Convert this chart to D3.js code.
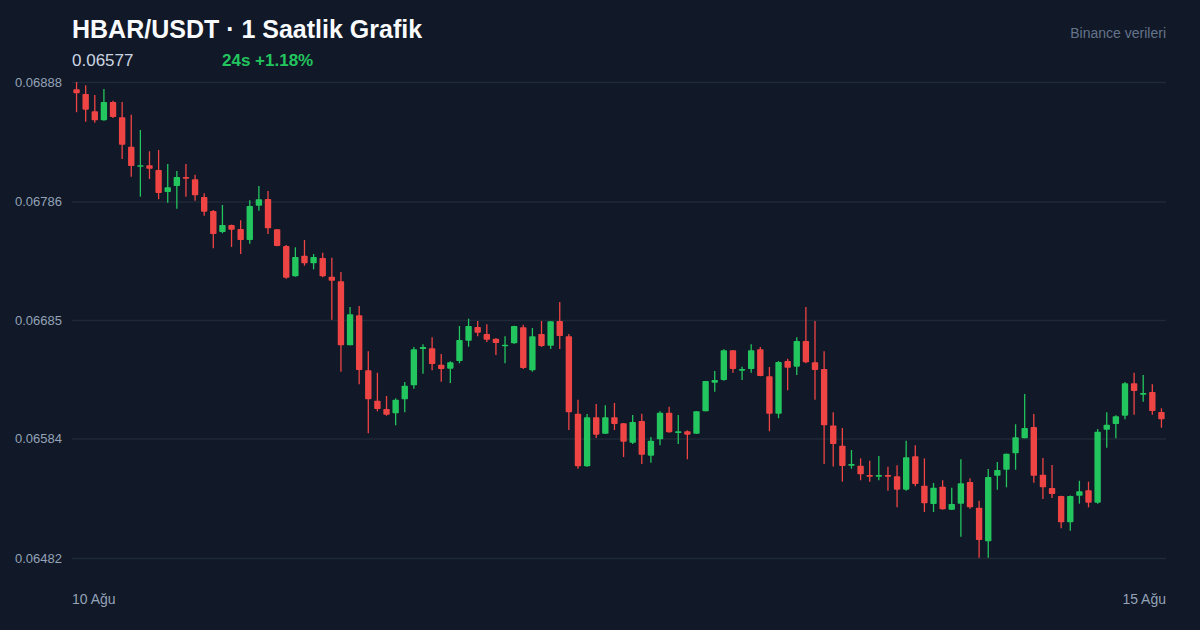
<!DOCTYPE html>
<html>
<head>
<meta charset="utf-8">
<script src="https://cdn.jsdelivr.net/npm/d3@7"></script>
<style>
  html, body { margin: 0; padding: 0; background: #111827; }
  svg { display: block; font-family: "Liberation Sans", Arial, Helvetica, sans-serif; }
</style>
</head>
<body>
<svg id="chart" width="1200" height="630"></svg>
<script>
// ── Data (HBAR/USDT, 1h candles, 10 Ağu → 15 Ağu) ─────────
const open = [
  0.068818, 0.068778, 0.068630, 0.068553, 0.068709, 0.068579, 0.068328, 0.068159, 0.068170, 0.068129,
  0.067942, 0.067993, 0.068070, 0.068050, 0.067899, 0.067780, 0.067601, 0.067660, 0.067626, 0.067532,
  0.067825, 0.067882, 0.067624, 0.067481, 0.067223, 0.067398, 0.067334, 0.067379, 0.067219, 0.067180,
  0.066634, 0.066890, 0.066421, 0.066162, 0.066091, 0.066054, 0.066174, 0.066293, 0.066603, 0.066609,
  0.066469, 0.066435, 0.066500, 0.066673, 0.066790, 0.066731, 0.066691, 0.066626, 0.066651, 0.066788,
  0.066421, 0.066731, 0.066631, 0.066842, 0.066711, 0.066051, 0.065602, 0.066020, 0.065880, 0.066020,
  0.065969, 0.065803, 0.065989, 0.065693, 0.065832, 0.066059, 0.065886, 0.065901, 0.065880, 0.066071,
  0.066315, 0.066338, 0.066592, 0.066418, 0.066432, 0.066600, 0.066370, 0.066051, 0.066500, 0.066452,
  0.066671, 0.066489, 0.066432, 0.065950, 0.065778, 0.065607, 0.065607, 0.065528, 0.065513, 0.065528,
  0.065517, 0.065403, 0.065687, 0.065437, 0.065281, 0.065428, 0.065232, 0.065283, 0.065468, 0.065249,
  0.064962, 0.065522, 0.065573, 0.065714, 0.065842, 0.065937, 0.065531, 0.065417, 0.065349, 0.065124,
  0.065351, 0.065397, 0.065292, 0.065914, 0.065963, 0.066034, 0.066310, 0.066213, 0.066236, 0.066065
];
const high = [
  0.068880, 0.068852, 0.068769, 0.068820, 0.068721, 0.068709, 0.068601, 0.068471, 0.068289, 0.068300,
  0.068181, 0.068121, 0.068181, 0.068089, 0.067931, 0.067788, 0.067831, 0.067664, 0.067700, 0.067871,
  0.067993, 0.067950, 0.067626, 0.067490, 0.067470, 0.067532, 0.067413, 0.067424, 0.067381, 0.067259,
  0.066961, 0.066969, 0.066583, 0.066400, 0.066202, 0.066182, 0.066321, 0.066620, 0.066643, 0.066702,
  0.066560, 0.066498, 0.066799, 0.066861, 0.066842, 0.066813, 0.066694, 0.066711, 0.066801, 0.066810,
  0.066782, 0.066842, 0.066842, 0.067004, 0.066731, 0.066170, 0.066048, 0.066134, 0.066122, 0.066142,
  0.065971, 0.066040, 0.066051, 0.065852, 0.066071, 0.066111, 0.066040, 0.065909, 0.066073, 0.066330,
  0.066415, 0.066600, 0.066594, 0.066452, 0.066643, 0.066620, 0.066449, 0.066500, 0.066520, 0.066702,
  0.066961, 0.066842, 0.066583, 0.066063, 0.065929, 0.065741, 0.065670, 0.065650, 0.065690, 0.065599,
  0.065611, 0.065821, 0.065781, 0.065670, 0.065460, 0.065483, 0.065420, 0.065662, 0.065500, 0.065309,
  0.065579, 0.065639, 0.065710, 0.065961, 0.066219, 0.066048, 0.065673, 0.065613, 0.065351, 0.065353,
  0.065479, 0.065471, 0.065920, 0.066063, 0.066037, 0.066321, 0.066400, 0.066381, 0.066302, 0.066097
];
const low = [
  0.068622, 0.068541, 0.068533, 0.068550, 0.068573, 0.068223, 0.068072, 0.067902, 0.068053, 0.067880,
  0.067851, 0.067799, 0.067902, 0.067868, 0.067740, 0.067462, 0.067590, 0.067473, 0.067413, 0.067501,
  0.067782, 0.067584, 0.067479, 0.067202, 0.067220, 0.067313, 0.067282, 0.067214, 0.066853, 0.066409,
  0.066634, 0.066302, 0.065884, 0.066071, 0.066034, 0.065952, 0.066063, 0.066264, 0.066392, 0.066421,
  0.066324, 0.066313, 0.066481, 0.066622, 0.066711, 0.066662, 0.066552, 0.066481, 0.066648, 0.066432,
  0.066409, 0.066620, 0.066603, 0.066603, 0.065912, 0.065582, 0.065599, 0.065844, 0.065878, 0.065912,
  0.065682, 0.065792, 0.065622, 0.065633, 0.065781, 0.065889, 0.065792, 0.065662, 0.065878, 0.066071,
  0.066238, 0.066332, 0.066400, 0.066338, 0.066400, 0.066370, 0.065901, 0.066012, 0.066250, 0.066381,
  0.066481, 0.066170, 0.065622, 0.065600, 0.065471, 0.065582, 0.065483, 0.065471, 0.065483, 0.065394,
  0.065252, 0.065394, 0.065432, 0.065212, 0.065212, 0.065232, 0.065230, 0.065002, 0.065240, 0.064823,
  0.064823, 0.065403, 0.065423, 0.065573, 0.065841, 0.065462, 0.065323, 0.065332, 0.065073, 0.065053,
  0.065283, 0.065252, 0.065283, 0.065761, 0.065841, 0.066003, 0.066042, 0.066153, 0.066042, 0.065931
];
const close = [
  0.068784, 0.068644, 0.068553, 0.068709, 0.068581, 0.068345, 0.068164, 0.068170, 0.068140, 0.067933,
  0.067982, 0.068070, 0.068055, 0.067914, 0.067774, 0.067584, 0.067660, 0.067620, 0.067532, 0.067822,
  0.067880, 0.067632, 0.067481, 0.067211, 0.067387, 0.067334, 0.067387, 0.067223, 0.067185, 0.066634,
  0.066899, 0.066423, 0.066174, 0.066091, 0.066042, 0.066170, 0.066290, 0.066600, 0.066620, 0.066475,
  0.066432, 0.066489, 0.066679, 0.066799, 0.066742, 0.066682, 0.066654, 0.066639, 0.066799, 0.066441,
  0.066711, 0.066628, 0.066839, 0.066714, 0.066063, 0.065602, 0.066020, 0.065872, 0.066020, 0.065963,
  0.065812, 0.065980, 0.065701, 0.065821, 0.066059, 0.065892, 0.065901, 0.065872, 0.066071, 0.066330,
  0.066338, 0.066592, 0.066432, 0.066432, 0.066592, 0.066372, 0.066051, 0.066492, 0.066443, 0.066671,
  0.066489, 0.066423, 0.065952, 0.065792, 0.065605, 0.065622, 0.065534, 0.065513, 0.065528, 0.065513,
  0.065403, 0.065679, 0.065451, 0.065287, 0.065420, 0.065235, 0.065281, 0.065457, 0.065252, 0.064974,
  0.065511, 0.065571, 0.065710, 0.065850, 0.065929, 0.065522, 0.065423, 0.065366, 0.065124, 0.065349,
  0.065389, 0.065292, 0.065897, 0.065957, 0.066029, 0.066310, 0.066244, 0.066227, 0.066074, 0.066003
];
const yTicks  = [0.06482, 0.06584, 0.06685, 0.06786, 0.06888];
const xLabels = ['10 Ağu', '15 Ağu'];

const COLORS = {
  bg:   '#111827',
  grid: '#1f2937',
  up:   '#22c55e',
  down: '#ef4444',
  tick: '#94a3b8'
};

(function () {
  const svg = d3.select('#chart');
  const W = 1200, H = 630;
  const M = { left: 72, right: 1166, top: 82, bottom: 558 };

  svg.append('rect').attr('width', W).attr('height', H).attr('fill', COLORS.bg);

  const candles = open.map((o, i) => ({ i, o, h: high[i], l: low[i], c: close[i] }));

  // ── Scales ─────────────────────────────────────────────
  const x = d3.scaleBand()
    .domain(candles.map(d => d.i))
    .range([M.left, M.right])
    .paddingInner(0.3)
    .paddingOuter(0.15);

  const y = d3.scaleLinear()
    .domain([d3.min(yTicks), d3.max(yTicks)])
    .range([M.bottom, M.top]);

  // ── Header ─────────────────────────────────────────────
  svg.append('text')
    .attr('x', 72).attr('y', 38)
    .attr('fill', '#f8fafc')
    .attr('font-size', 25).attr('font-weight', 700)
    .text('HBAR/USDT · 1 Saatlik Grafik');

  svg.append('text')
    .attr('x', 72).attr('y', 66)
    .attr('fill', '#cbd5e1')
    .attr('font-size', 17)
    .text('0.06577');

  svg.append('text')
    .attr('x', 222).attr('y', 66)
    .attr('fill', COLORS.up)
    .attr('font-size', 17).attr('font-weight', 700)
    .text('24s +1.18%');

  svg.append('text')
    .attr('x', 1166).attr('y', 38)
    .attr('text-anchor', 'end')
    .attr('fill', '#64748b')
    .attr('font-size', 14)
    .text('Binance verileri');

  // ── Grid + y axis ──────────────────────────────────────
  const yAxis = d3.axisLeft(y)
    .tickValues(yTicks)
    .tickFormat(d3.format('.5f'))
    .tickSize(-(M.right - M.left))
    .tickPadding(10);

  const gy = svg.append('g')
    .attr('transform', `translate(${M.left},0)`)
    .call(yAxis);
  gy.select('.domain').remove();
  gy.selectAll('.tick line').attr('stroke', COLORS.grid).attr('stroke-width', 1.5);
  gy.selectAll('.tick text')
    .attr('fill', COLORS.tick)
    .attr('font-size', 13)
    .attr('font-family', '"Liberation Sans", Arial, sans-serif');

  // ── X labels ───────────────────────────────────────────
  svg.append('text')
    .attr('x', M.left).attr('y', 604)
    .attr('fill', COLORS.tick).attr('font-size', 14)
    .text(xLabels[0]);
  svg.append('text')
    .attr('x', M.right).attr('y', 604)
    .attr('text-anchor', 'end')
    .attr('fill', COLORS.tick).attr('font-size', 14)
    .text(xLabels[1]);

  // ── Candles ────────────────────────────────────────────
  const col = d => d.c >= d.o ? COLORS.up : COLORS.down;
  const cg = svg.append('g').attr('class', 'candles')
    .selectAll('g').data(candles).join('g');

  cg.append('line')
    .attr('x1', d => x(d.i) + x.bandwidth() / 2)
    .attr('x2', d => x(d.i) + x.bandwidth() / 2)
    .attr('y1', d => y(d.h))
    .attr('y2', d => y(d.l))
    .attr('stroke', col)
    .attr('stroke-width', 1.3);

  cg.append('rect')
    .attr('x', d => x(d.i))
    .attr('width', x.bandwidth())
    .attr('y', d => y(Math.max(d.o, d.c)))
    .attr('height', d => Math.max(1.5, Math.abs(y(d.o) - y(d.c))))
    .attr('rx', 0.8)
    .attr('fill', col);
})();
</script>
</body>
</html>
